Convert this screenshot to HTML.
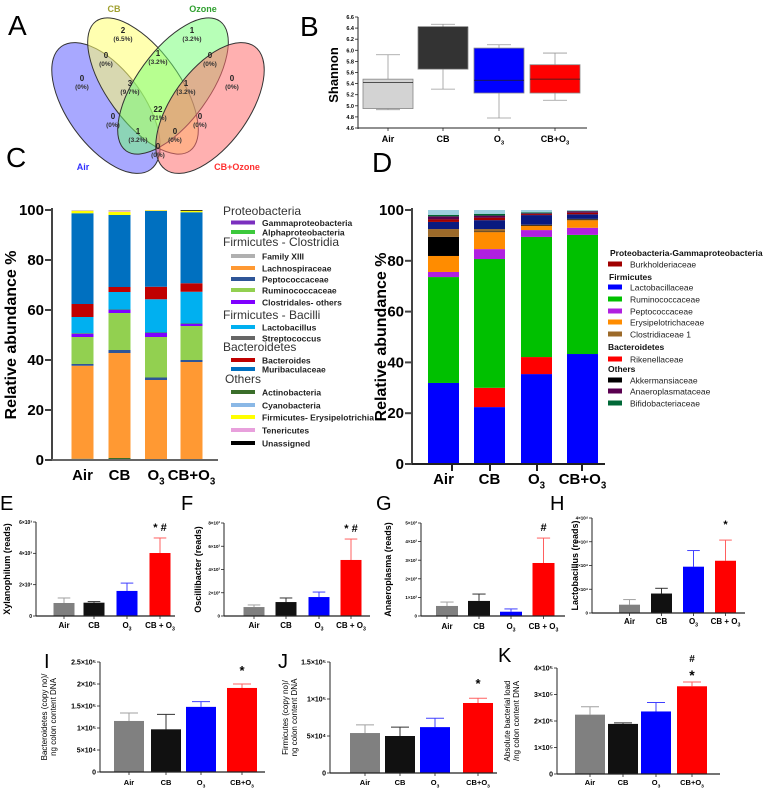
<!DOCTYPE html>
<html><head><meta charset="utf-8"><style>
html,body{margin:0;padding:0;background:#fff}
svg{display:block;font-family:"Liberation Sans",Arial,sans-serif}
</style></head><body>
<svg id="fig" width="784" height="791" viewBox="0 0 784 791" xmlns="http://www.w3.org/2000/svg">
<g id="venn">
  <ellipse cx="106" cy="108" rx="38" ry="76" transform="rotate(-36 106 108)" fill="#6e6eff" fill-opacity="0.6" stroke="#333" stroke-width="1"/>
  <ellipse cx="143" cy="86" rx="36" ry="80" transform="rotate(-36 143 86)" fill="#ffff70" fill-opacity="0.55" stroke="#333" stroke-width="1"/>
  <ellipse cx="173" cy="86" rx="36" ry="80" transform="rotate(36 173 86)" fill="#70ff70" fill-opacity="0.5" stroke="#333" stroke-width="1"/>
  <ellipse cx="210" cy="108" rx="38" ry="76" transform="rotate(36 210 108)" fill="#ff7070" fill-opacity="0.55" stroke="#333" stroke-width="1"/>
</g>
<g id="bigLabels" font-size="28" fill="#000"></g>
</svg>
<script>
// ---------- Panel B data ----------
const bGroups=['Air','CB','O3','CB+O3'];
const bMin=[4.93,5.30,4.78,5.10];
const bQ1=[4.95,5.66,5.23,5.23];
const bMed=[5.42,6.42,5.46,5.48];
const bQ3=[5.48,6.42,6.04,5.74];
const bMax=[5.92,6.47,6.10,5.95];
const bTicks=[4.6,4.8,5.0,5.2,5.4,5.6,5.8,6.0,6.2,6.4,6.6];
// ---------- Panel C data ----------
const cGroups=['Air','CB','O3','CB+O3'];
const cActino=[0.5,0.8,0.2,0.2];
const cLachno=[37.2,42.0,31.8,39.0];
const cPepto=[0.7,1.2,1.0,0.8];
const cRumino=[10.8,14.8,16.2,13.6];
const cClost=[1.2,1.2,1.6,0.8];
const cStrep=[0.3,0.2,0.2,0.2];
const cLacto=[6.5,7.0,13.3,12.7];
const cBacter=[5.2,2.0,5.0,3.4];
const cMuri=[36.3,28.8,30.3,28.4];
const cErys=[1.0,1.3,0.3,0.6];
const cTener=[0.2,0.4,0.1,0.0];
const cFam=[0.1,0.3,0.0,0.0];
const cUnass=[0.0,0.0,0.0,0.3];
const cTicks=[0,20,40,60,80,100];
// ---------- Panel D data ----------
const dGroups=['Air','CB','O3','CB+O3'];
const dLacto=[31.9,22.4,35.4,43.3];
const dRiken=[0,7.6,6.7,0];
const dRumino=[41.7,50.7,47.3,46.9];
const dPepto=[2.0,3.9,2.7,2.8];
const dErys=[6.3,6.7,1.6,3.0];
const dAkker=[7.5,0.2,0.2,0.3];
const dClos1=[3.1,1.0,0.3,0.2];
const dOther=[2.8,3.5,3.8,1.8];
const dBurk=[1.0,1.0,0.4,0.6];
const dAnae=[1.2,0.8,0.3,0.6];
const dBifi=[0.6,0.7,0.4,0.2];
const dRest=[1.9,1.5,0.9,0.3];
const dTicks=[0,20,40,60,80,100];
// ---------- Panels E-K data ----------
const barGroups=['Air','CB','O3','CB + O3'];
const eMean=[830,850,1600,4020];
const eErr=[1150,920,2100,4980];
const eTicks=[0,2000,4000,6000];
const eTickLabels=['0','2×10³','4×10³','6×10³'];
const fMean=[770,1200,1630,4820];
const fErr=[950,1550,2060,6620];
const fTicks=[0,2000,4000,6000,8000];
const fTickLabels=['0','2×10³','4×10³','6×10³','8×10³'];
const gMean=[54,81,23,285];
const gErr=[75,118,38,419];
const gTicks=[0,100,200,300,400,500];
const gTickLabels=['0','1×10²','2×10²','3×10²','4×10²','5×10²'];
const hMean=[3500,8200,19500,22000];
const hErr=[5650,10400,26300,30700];
const hTicks=[0,10000,20000,30000,40000];
const hTickLabels=['0','1×10⁴','2×10⁴','3×10⁴','4×10⁴'];
const iMean=[116000,97000,148000,191000];
const iErr=[134000,131000,160000,200000];
const iTicks=[0,50000,100000,150000,200000,250000];
const iTickLabels=['0','5×10⁴','1×10⁵','1.5×10⁵','2×10⁵','2.5×10⁵'];
const jMean=[54000,50000,62000,94600];
const jErr=[65000,62000,74000,101000];
const jTicks=[0,50000,100000,150000];
const jTickLabels=['0','5×10⁴','1×10⁵','1.5×10⁵'];
const kMean=[224000,189000,236000,331000];
const kErr=[254000,193000,270000,347000];
const kTicks=[0,100000,200000,300000,400000];
const kTickLabels=['0','1×10⁵','2×10⁵','3×10⁵','4×10⁵'];

const NS='http://www.w3.org/2000/svg';
const fig=document.getElementById('fig');
function mk(tag,attrs,parent){const e=document.createElementNS(NS,tag);for(const k in attrs)e.setAttribute(k,attrs[k]);(parent||fig).appendChild(e);return e;}
function txt(x,y,s,attrs,parent){const t=mk('text',Object.assign({x:x,y:y},attrs||{}),parent);t.textContent=s;return t;}
// label with O3 subscript handling
function grpLabel(x,y,s,size,weight,parent,anchor){
  const t=mk('text',{x:x,y:y,'font-size':size,'font-weight':weight||'bold','text-anchor':anchor||'middle'},parent);
  const parts=s.split('O3');
  parts.forEach((p,i)=>{
    if(p){const a=mk('tspan',{},t);a.textContent=p;}
    if(i<parts.length-1){const o=mk('tspan',{},t);o.textContent='O';const sub=mk('tspan',{dy:size*0.3,'font-size':size*0.65},t);sub.textContent='3';const back=mk('tspan',{dy:-size*0.3},t);back.textContent='';}
  });
  return t;
}

// ---- big panel letters ----
const letters=[['A',8,35],['B',300,36],['C',6,167],['D',372,172],['E',0,510],['F',181,510],['G',376,510],['H',550,510],['I',44,668],['J',278,668],['K',498,662]];
const bl=document.getElementById('bigLabels');
letters.forEach(l=>{
  const t=txt(l[1],l[2],l[0],{'font-size':l[0]<'E'?28:20},bl);
  
  
});

// ---- Venn text ----
const venn=document.getElementById('venn');
const vTitles=[['CB',114,12,'#a0a030'],['Ozone',203,12,'#30a030'],['Air',83,170,'#3030ff'],['CB+Ozone',237,170,'#ff3030']];
vTitles.forEach(v=>{const t=txt(v[1],v[2],v[0],{'font-size':9,'font-weight':'bold','fill':v[3],'text-anchor':'middle'},venn);
  
  });
const vNums=[['2','(6.5%)',123,33],['1','(3.2%)',192,33],['0','(0%)',106,58],['1','(3.2%)',158,56],['0','(0%)',210,58],['0','(0%)',82,81],['3','(9.7%)',130,86],['1','(3.2%)',186,86],['0','(0%)',232,81],['0','(0%)',113,119],['22','(71%)',158,112],['0','(0%)',200,119],['1','(3.2%)',138,134],['0','(0%)',175,134],['0','(0%)',158,149]];
vNums.forEach(v=>{
  const a=txt(v[2],v[3],v[0],{'font-size':8,'font-weight':'bold','fill':'#222','text-anchor':'middle'},venn);
  
  
  const b=txt(v[2],v[3]+8,v[1],{'font-size':6.5,'font-weight':'bold','fill':'#333','text-anchor':'middle'},venn);
  
  
});

// ---- Panel B boxplot ----
(function(){
  const g=mk('g',{});
  
  
  const x0=358,x1=587,yb=128,yt=17;
  const y=v=>yb-(v-4.6)/(6.6-4.6)*(yb-yt);
  const cx=[388,443,499,555];
  const fills=['#d3d3d3','#333333','#0000ff','#ff0000'];
  mk('line',{x1:x0,y1:yt,x2:x0,y2:yb+1,stroke:'#222','stroke-width':1},g);
  mk('line',{x1:x0,y1:yb,x2:x1,y2:yb,stroke:'#222','stroke-width':1},g);
  bTicks.forEach(v=>{mk('line',{x1:x0-3,y1:y(v),x2:x0,y2:y(v),stroke:'#222','stroke-width':0.8},g);
    const t=txt(x0-4,y(v)+2,v.toFixed(1),{'font-size':5.5,'font-weight':'bold','text-anchor':'end'},g);
    
    });
  const tt=txt(0,0,'Shannon',{'font-size':13,'font-weight':'bold','text-anchor':'middle',transform:'translate(338,75) rotate(-90)'},g);
  
  
  bGroups.forEach((n,i)=>{
    const w=50;
    mk('line',{x1:cx[i],y1:y(bMax[i]),x2:cx[i],y2:y(bMin[i]),stroke:'#999','stroke-width':0.8},g);
    mk('line',{x1:cx[i]-12,y1:y(bMax[i]),x2:cx[i]+12,y2:y(bMax[i]),stroke:'#999','stroke-width':0.8},g);
    mk('line',{x1:cx[i]-12,y1:y(bMin[i]),x2:cx[i]+12,y2:y(bMin[i]),stroke:'#999','stroke-width':0.8},g);
    const r=mk('rect',{x:cx[i]-w/2,y:y(bQ3[i]),width:w,height:y(bQ1[i])-y(bQ3[i]),fill:fills[i],stroke:'#888','stroke-width':0.8},g);
    
    
    mk('line',{x1:cx[i]-w/2,y1:y(bMed[i]),x2:cx[i]+w/2,y2:y(bMed[i]),stroke:'#222','stroke-width':0.8},g);
    mk('line',{x1:cx[i],y1:yb,x2:cx[i],y2:yb+3,stroke:'#222','stroke-width':0.8},g);
    const l=grpLabel(cx[i],142,n,9,'bold',g);
    
    
  });
})();

// ---- stacked chart helper ----
function stacked(name,groups,series,colors,cx,bw,xAxisEnd,yAx,y0,y100,ticks,titleX,labelY,axisColor){
  const g=mk('g',{});
  
  
  const y=v=>y0-v/100*(y0-y100);
  groups.forEach((n,i)=>{
    let acc=0;
    series.forEach((s,k)=>{
      const v=s[i]; if(v<=0)return;
      const r=mk('rect',{x:cx[i]-bw/2,y:y(acc+v),width:bw,height:y(acc)-y(acc+v),fill:colors[k]},g);
      
      
      acc+=v;
    });
    const l=grpLabel(cx[i],labelY,n,15,'bold',g);
    
    
  });
  mk('line',{x1:yAx,y1:y100-2,x2:yAx,y2:y0+1,stroke:'#444','stroke-width':2},g);
  mk('line',{x1:yAx,y1:y0,x2:xAxisEnd,y2:y0,stroke:axisColor,'stroke-width':2},g);
  ticks.forEach(v=>{
    mk('line',{x1:yAx-7,y1:y(v),x2:yAx,y2:y(v),stroke:'#444','stroke-width':2},g);
    const t=txt(yAx-8,y(v)+5,String(v),{'font-size':15,'font-weight':'bold','text-anchor':'end'},g);
    
    
  });
  const tt=txt(0,0,'Relative abundance %',{'font-size':16,'font-weight':'bold','text-anchor':'middle',transform:'translate('+titleX+','+((y0+y100)/2)+') rotate(-90)'},g);
  
  
  return g;
}
stacked('panel-c-stacked',cGroups,[cActino,cLachno,cPepto,cRumino,cClost,cStrep,cLacto,cBacter,cMuri,cErys,cTener,cFam,cUnass],
  ['#3a6e2a','#ff9933','#2e5597','#92d050','#7f00ff','#666666','#00b0f0','#c00000','#0070c0','#ffff00','#e8a0dc','#b0b0b0','#000000'],
  [82.5,119.5,156,191.5],22,218,52,460,210,cTicks,16,480,'#666');
const dg=stacked('panel-d-stacked',dGroups,[dLacto,dRiken,dRumino,dPepto,dErys,dAkker,dClos1,dOther,dBurk,dAnae,dBifi,dRest],
  ['#0000ff','#ff0000','#00c000','#b020e0','#ff8c00','#000000','#9c6a2a','#0a1a80','#a00000','#5a0050','#006837','#9ccfe0'],
  [443.5,489.5,536.5,582.5],31,605,412,464,210,dTicks,386,484,'#222');
[452,490,537,582].forEach(x=>mk('line',{x1:x,y1:464,x2:x,y2:471,stroke:'#222','stroke-width':2},dg));

// ---- legends ----
function legend(name,items,sx,sw,sh,tx,fs,hfs,hcolor,hweight,iweight){
  const g=mk('g',{});
  
  
  items.forEach(it=>{
    if(it.h){const t=txt(it.x||sx,it.y+4,it.h,{'font-size':hfs,'fill':hcolor,'font-weight':hweight},g);
      
      }
    else{
      const r=mk('rect',{x:sx,y:it.y-sh/2,width:sw,height:sh,fill:it.c},g);
      
      
      const t=txt(tx,it.y+3.5,it.t,{'font-size':fs,'font-weight':iweight,'fill':'#222'},g);
      
      
    }
  });
}
legend('panel-c-legend',[
 {h:'Proteobacteria',y:211,x:223},{t:'Gammaproteobacteria',c:'#7b2fbf',y:222.5},{t:'Alphaproteobacteria',c:'#3cc93c',y:232},
 {h:'Firmicutes - Clostridia',y:242,x:223},{t:'Family XIII',c:'#b0b0b0',y:256},{t:'Lachnospiraceae',c:'#ff9933',y:268},{t:'Peptococcaceae',c:'#2e5597',y:279},{t:'Ruminococcaceae',c:'#92d050',y:290},{t:'Clostridales- others',c:'#7f00ff',y:302},
 {h:'Firmicutes - Bacilli',y:315,x:223},{t:'Lactobacillus',c:'#00b0f0',y:327},{t:'Streptococcus',c:'#666666',y:338},
 {h:'Bacteroidetes',y:347,x:223},{t:'Bacteroides',c:'#c00000',y:360},{t:'Muribaculaceae',c:'#0070c0',y:369},
 {h:'Others',y:379,x:225},{t:'Actinobacteria',c:'#3a6e2a',y:392},{t:'Cyanobacteria',c:'#8ab8e6',y:405},{t:'Firmicutes- Erysipelotrichia',c:'#ffff00',y:417},{t:'Tenericutes',c:'#e8a0dc',y:430},{t:'Unassigned',c:'#000000',y:443}
],231,24,4,262,8.5,12,'#333','normal','bold');
legend('panel-d-legend',[
 {h:'Proteobacteria-Gammaproteobacteria',y:252,x:610},{t:'Burkholderiaceae',c:'#a00000',y:264},
 {h:'Firmicutes',y:276,x:609},{t:'Lactobacillaceae',c:'#0000ff',y:287},{t:'Ruminococcaceae',c:'#00c000',y:299},{t:'Peptococcaceae',c:'#b020e0',y:311},{t:'Erysipelotrichaceae',c:'#ff8c00',y:322},{t:'Clostridiaceae 1',c:'#9c6a2a',y:334},
 {h:'Bacteroidetes',y:346,x:608},{t:'Rikenellaceae',c:'#ff0000',y:359},
 {h:'Others',y:368,x:608},{t:'Akkermansiaceae',c:'#000000',y:380},{t:'Anaeroplasmataceae',c:'#5a0050',y:391},{t:'Bifidobacteriaceae',c:'#006837',y:403}
],608,14,5,630,8.5,8.5,'#111','bold','normal');

// ---- bar chart helper ----
const barColors=['#808080','#111111','#0000ff','#ff0000'];
const errColors=['#a0a0a0','#333333','#4040ff','#ff6060'];
function bars(name,mean,err,ticks,tickLabels,ax,axEnd,y0,yTop,cx,bw,labelY,lfs,tfs,title,titleX,titleFs,titleW,marks,tickLen,groups){
  const g=mk('g',{});
  
  
  const maxV=ticks[ticks.length-1];
  const y=v=>y0-v/maxV*(y0-yTop);
  mean.forEach((m,i)=>{
    mk('line',{x1:cx[i],y1:y(m),x2:cx[i],y2:y(err[i]),stroke:errColors[i],'stroke-width':1},g);
    mk('line',{x1:cx[i]-bw*0.3,y1:y(err[i]),x2:cx[i]+bw*0.3,y2:y(err[i]),stroke:errColors[i],'stroke-width':1},g);
    const r=mk('rect',{x:cx[i]-bw/2,y:y(m),width:bw,height:y0-y(m),fill:barColors[i]},g);
    
    
    const l=grpLabel(cx[i],labelY,groups[i],lfs,'bold',g);
    
    
    mk('line',{x1:cx[i],y1:y0,x2:cx[i],y2:y0+3,stroke:'#222','stroke-width':0.8},g);
  });
  mk('line',{x1:ax,y1:yTop,x2:ax,y2:y0,stroke:'#222','stroke-width':1},g);
  mk('line',{x1:ax,y1:y0,x2:axEnd,y2:y0,stroke:'#222','stroke-width':1.2},g);
  ticks.forEach((v,k)=>{
    mk('line',{x1:ax-tickLen,y1:y(v),x2:ax,y2:y(v),stroke:'#222','stroke-width':0.8},g);
    const t=txt(ax-tickLen-1,y(v)+tfs*0.35,tickLabels[k],{'font-size':tfs,'text-anchor':'end','font-weight':'bold'},g);
    
    
  });
  const cy=(y0+yTop)/2;
  title.forEach((s,k)=>{
    const t=txt(0,0,s,{'font-size':titleFs,'font-weight':titleW,'text-anchor':'middle',transform:'translate('+(titleX+k*(titleFs+1))+','+cy+') rotate(-90)'},g);
    
    
  });
  marks.forEach(mm=>{
    const t=txt(cx[3],mm[1],mm[0],{'font-size':mm[2],'font-weight':'bold','text-anchor':'middle'},g);
    
    
  });
}
bars('panel-e-xylanophilum',eMean,eErr,eTicks,eTickLabels,36,175,616,522,[64,94,127,160],21,628,8,5,['Xylanophilum (reads)'],10,9,'bold',[['* #',531,11]],3,barGroups);
bars('panel-f-oscillibacter',fMean,fErr,fTicks,fTickLabels,224,370,616,523,[254,286,319,351],21,628,8,4.5,['Oscillibacter (reads)'],201,9,'bold',[['* #',532,11]],3,barGroups);
bars('panel-g-anaeroplasma',gMean,gErr,gTicks,gTickLabels,421,565,616,523,[447,479,511,543.5],22,629,8,4.5,['Anaeroplasma (reads)'],391,9,'bold',[['#',531,11]],3,barGroups);
bars('panel-h-lactobacillus',hMean,hErr,hTicks,hTickLabels,592,745,613,518,[629.5,661.5,693.5,725.5],21,624,8,4.5,['Lactobacillus (reads)'],578,9,'bold',[['*',528,11]],3,barGroups);
const bg2=['Air','CB','O3','CB+O3'];
bars('panel-i-bacteroidetes',iMean,iErr,iTicks,iTickLabels,100,265,772,662,[129,166,201,242],30,785,7.5,7,['Bacteroidetes (copy no)/','ng colon content DNA'],47,8,'normal',[['*',675,13]],3,bg2);
bars('panel-j-firmicutes',jMean,jErr,jTicks,jTickLabels,330,497,773,662,[365,400,435,478],30,785,7.5,7,['Firmicutes (copy no)/','ng colon content DNA'],288,8,'normal',[['*',688,13]],3,bg2);
bars('panel-k-absolute-load',kMean,kErr,kTicks,kTickLabels,557,720,774,668,[590,623,656,692],30,785,7.5,7,['Absolute bacterial load','/ng colon content DNA'],510,8,'normal',[['#',662,10],['*',680,14]],3,bg2);
</script>
</body></html>
